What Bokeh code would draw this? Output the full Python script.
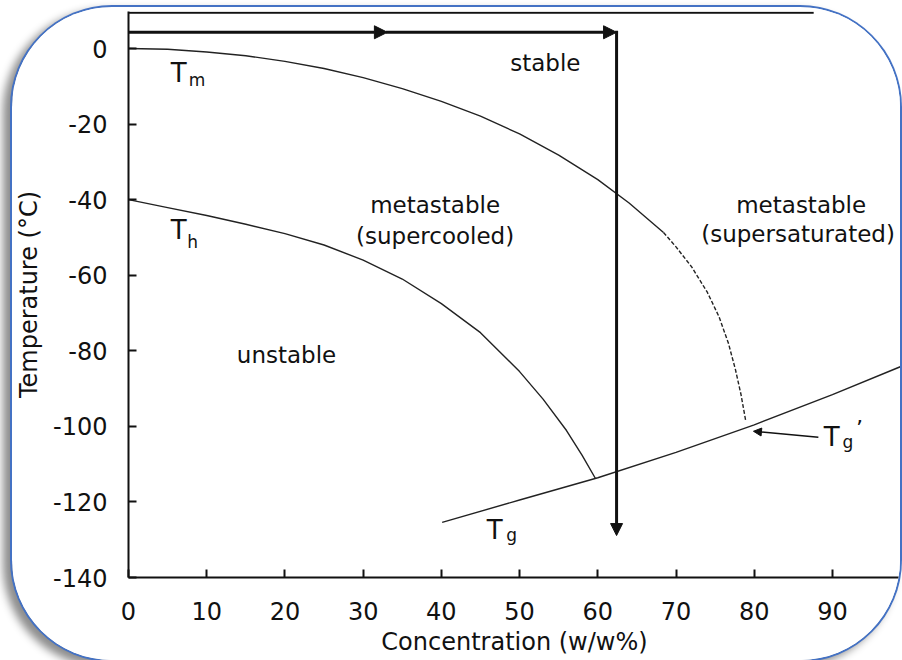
import numpy as np
from bokeh.plotting import figure
from bokeh.models import (Range1d, FixedTicker, Label, Arrow,
                          NormalHead, InlineStyleSheet, PrintfTickFormatter)
from bokeh.embed import file_html
from bokeh.resources import INLINE

# ---- data ----
x_ticks = [0, 10, 20, 30, 40, 50, 60, 70, 80, 90]
y_ticks = [-140, -120, -100, -80, -60, -40, -20, 0]

# Tm (melting curve), solid part
tm_x = [0, 5, 10, 15, 20, 25, 30, 35, 40, 45, 50, 55, 60, 64, 68.4]
tm_y = [0, -0.2, -0.9, -1.9, -3.4, -5.3, -7.7, -10.6, -14.0, -17.9, -22.6, -28.2, -34.7, -40.9, -48.7]
# Tm extrapolated (dashed) part
tmd_x = [68.4, 70.0, 72.0, 74.0, 75.5, 76.7, 77.6, 78.3, 78.9]
tmd_y = [-48.7, -52.5, -57.8, -64.5, -71.0, -78.0, -85.0, -91.5, -98.4]
# Th (homogeneous nucleation)
th_x = [0, 5, 10, 15, 20, 25, 30, 35, 40, 45, 50, 53, 56, 58, 59.7]
th_y = [-40, -42.1, -44.2, -46.5, -49.0, -52.0, -56.0, -61.0, -67.5, -75.2, -85.5, -92.8, -101.1, -107.7, -113.8]
# Tg (glass transition)
tg_x = [40.1, 50, 60, 70, 80, 90, 98.7]
tg_y = [-125.4, -119.5, -113.6, -106.9, -99.6, -91.6, -84.2]

# freezing path arrow (x, y)
path_x = [0, 33.1, 62.4, 62.4]
path_y = [4.3, 4.3, 4.3, -128.9]
# pointer to Tg'
ptr_x = [88.2, 79.9]
ptr_y = [-102.9, -101.3]
# top frame line
top_x = [0, 87.6]
top_y = [9.5, 9.5]

FONT = "DejaVu Sans"
INK = "#111111"

css = InlineStyleSheet(css=""":host {
  margin-left: 12px;
  margin-top: 7px;
  border-radius: 100px;
  overflow: hidden;
  box-shadow: 0 0 0 2px #4472C4, -7px 5px 9px 2px rgba(0,0,0,0.45);
}""")

p = figure(width=888, height=653, output_backend="svg", toolbar_location=None,
           x_range=Range1d(0, 98.7), y_range=Range1d(-140, 9.8),
           min_border_left=116, min_border_right=0, min_border_top=4,
           min_border_bottom=83, stylesheets=[css])
p.outline_line_color = None
p.xgrid.grid_line_color = None
p.ygrid.grid_line_color = None
p.background_fill_color = "white"
p.border_fill_color = "white"

for ax, ticks in ((p.xaxis[0], x_ticks), (p.yaxis[0], y_ticks)):
    ax.ticker = FixedTicker(ticks=ticks)
    ax.formatter = PrintfTickFormatter(format="%d")
    ax.axis_line_width = 2
    ax.axis_line_color = INK
    ax.major_tick_in = 8
    ax.major_tick_out = 0
    ax.major_tick_line_width = 2
    ax.major_tick_line_color = INK
    ax.minor_tick_line_color = None
    ax.major_label_text_font = FONT
    ax.major_label_text_font_size = "24px"
    ax.major_label_text_color = INK
    ax.axis_label_text_font = FONT
    ax.axis_label_text_font_size = "24px"
    ax.axis_label_text_font_style = "normal"
    ax.axis_label_text_color = INK
p.xaxis.major_label_standoff = 24
p.yaxis.major_label_standoff = 21
p.yaxis.axis_label = "Temperature (\u00b0C)"
p.yaxis.axis_label_standoff = 7
p.xaxis.axis_label = "Concentration (w/w%)"
p.xaxis.axis_label_standoff = 5

# top frame line
p.line(top_x, top_y, line_color=INK, line_width=2)

# curves
p.line(tm_x, tm_y, line_color="#222222", line_width=1.4)
p.line(tmd_x, tmd_y, line_color="#222222", line_width=1.4, line_dash="4 2")
p.line(th_x, th_y, line_color="#222222", line_width=1.4)
p.line(tg_x, tg_y, line_color="#222222", line_width=1.4)

# freezing path arrows
for i in range(3):
    sz = 13 if i < 2 else 12
    p.add_layout(Arrow(x_start=path_x[i], y_start=path_y[i],
                       x_end=path_x[i + 1], y_end=path_y[i + 1],
                       line_width=3, line_color=INK, line_cap="square",
                       end=NormalHead(size=sz, fill_color=INK, line_color=INK)))
# pointer to Tg'
p.add_layout(Arrow(x_start=ptr_x[0], y_start=ptr_y[0], x_end=ptr_x[1], y_end=ptr_y[1],
                   line_width=1.5, line_color=INK,
                   end=NormalHead(size=8, fill_color=INK, line_color=INK)))

def lab(x, y, t, size="23px", align="center", base="middle"):
    p.add_layout(Label(x=x, y=y, text=t, text_font=FONT, text_font_size=size,
                       text_color=INK, text_align=align, text_baseline=base))

# region labels
lab(53.3, -3.7, "stable")
lab(39.2, -41.5, "metastable")
lab(39.2, -49.7, "(supercooled)")
lab(86.0, -41.5, "metastable")
lab(85.6, -49.2, "(supersaturated)")
lab(20.2, -81.2, "unstable")

# curve names
lab(5.4, -6.6, "T", size="26px", align="left", base="alphabetic")
lab(7.7, -8.4, "m", size="17px", align="left", base="alphabetic")
lab(5.4, -47.9, "T", size="26px", align="left", base="alphabetic")
lab(7.5, -51.3, "h", size="17px", align="left", base="alphabetic")
lab(45.8, -127.3, "T", size="26px", align="left", base="alphabetic")
lab(48.3, -128.8, "g", size="17px", align="left", base="alphabetic")
lab(88.9, -102.7, "T", size="26px", align="left", base="alphabetic")
lab(91.3, -104.2, "g", size="17px", align="left", base="alphabetic")
lab(93.0, -100.6, "\u2019", size="22px", align="left", base="alphabetic")

open("out.html", "w").write(file_html(p, INLINE))
